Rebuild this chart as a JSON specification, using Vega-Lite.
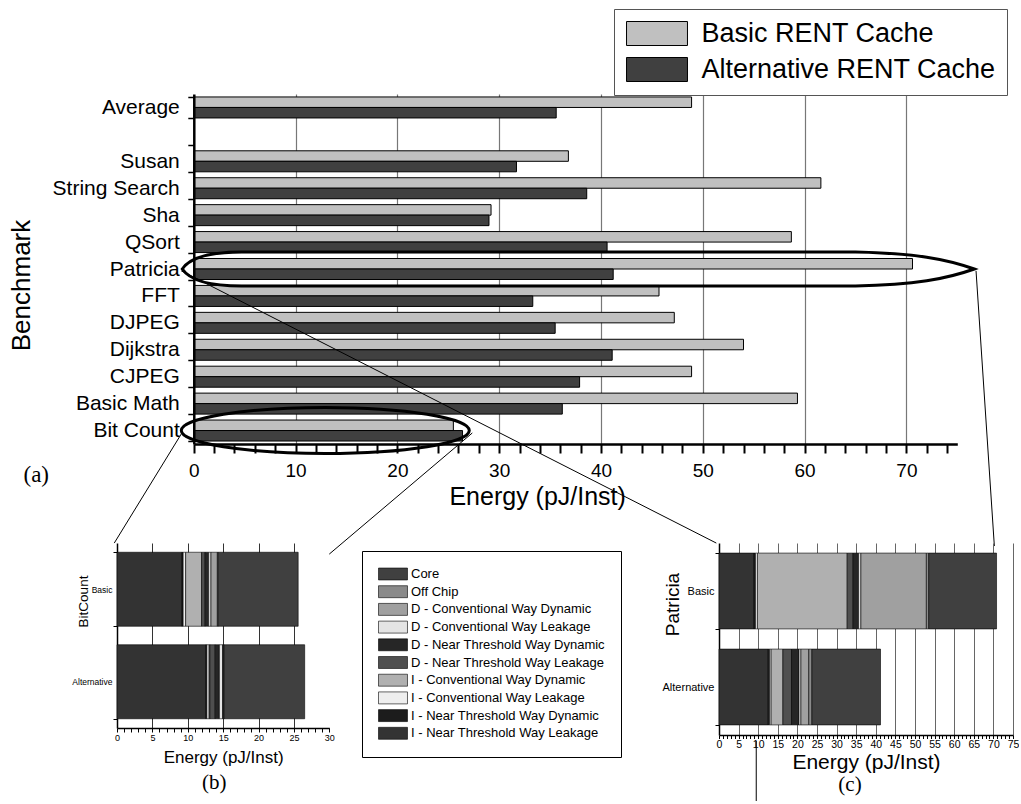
{
  "$schema": "https://vega.github.io/schema/vega-lite/v6.json",
  "padding": {"left": 8, "top": 8, "right": 0, "bottom": 0},
  "bounds": "flush",
  "spacing": 99,
  "background": "white",
  "config": {
    "view": {"stroke": null},
    "axis": {"domainColor": "#000", "tickColor": "#000", "labelColor": "#000", "titleColor": "#000", "labelFont": "Liberation Sans", "titleFont": "Liberation Sans", "titleFontWeight": "normal", "gridColor": "#777"},
    "legend": {"labelFont": "Liberation Sans", "labelColor": "#000"},
    "title": {"font": "Liberation Serif", "fontWeight": "normal", "color": "#000"}
  },
  "datasets": {
    "energy": [
      {"benchmark": "Average", "cache": "Basic RENT Cache", "energy": 48.9},
      {"benchmark": "Average", "cache": "Alternative RENT Cache", "energy": 35.6},
      {"benchmark": "Susan", "cache": "Basic RENT Cache", "energy": 36.8},
      {"benchmark": "Susan", "cache": "Alternative RENT Cache", "energy": 31.7},
      {"benchmark": "String Search", "cache": "Basic RENT Cache", "energy": 61.6},
      {"benchmark": "String Search", "cache": "Alternative RENT Cache", "energy": 38.6},
      {"benchmark": "Sha", "cache": "Basic RENT Cache", "energy": 29.2},
      {"benchmark": "Sha", "cache": "Alternative RENT Cache", "energy": 29.0},
      {"benchmark": "QSort", "cache": "Basic RENT Cache", "energy": 58.7},
      {"benchmark": "QSort", "cache": "Alternative RENT Cache", "energy": 40.6},
      {"benchmark": "Patricia", "cache": "Basic RENT Cache", "energy": 70.6},
      {"benchmark": "Patricia", "cache": "Alternative RENT Cache", "energy": 41.2},
      {"benchmark": "FFT", "cache": "Basic RENT Cache", "energy": 45.7},
      {"benchmark": "FFT", "cache": "Alternative RENT Cache", "energy": 33.3},
      {"benchmark": "DJPEG", "cache": "Basic RENT Cache", "energy": 47.2},
      {"benchmark": "DJPEG", "cache": "Alternative RENT Cache", "energy": 35.5},
      {"benchmark": "Dijkstra", "cache": "Basic RENT Cache", "energy": 54.0},
      {"benchmark": "Dijkstra", "cache": "Alternative RENT Cache", "energy": 41.1},
      {"benchmark": "CJPEG", "cache": "Basic RENT Cache", "energy": 48.9},
      {"benchmark": "CJPEG", "cache": "Alternative RENT Cache", "energy": 37.9},
      {"benchmark": "Basic Math", "cache": "Basic RENT Cache", "energy": 59.3},
      {"benchmark": "Basic Math", "cache": "Alternative RENT Cache", "energy": 36.2},
      {"benchmark": "Bit Count", "cache": "Basic RENT Cache", "energy": 25.5},
      {"benchmark": "Bit Count", "cache": "Alternative RENT Cache", "energy": 26.4}
    ],
    "callouts": [
      {"benchmark": "Patricia", "energy": 37.77},
      {"benchmark": "Bit Count", "energy": 12.92}
    ],
    "leaders": [
      {"energy": -1.23, "row": 0.37, "energy_end": -7.81, "row_end": -3.68},
      {"energy": 27.36, "row": 0.41, "energy_end": 13.31, "row_end": -4.09},
      {"energy": -1.23, "row": 6.43, "energy_end": 51.33, "row_end": -3.68},
      {"energy": 76.84, "row": 6.43, "energy_end": 78.64, "row_end": -3.79},
      {"energy": 55.25, "row": -11.03, "energy_end": 55.25, "row_end": -13.26}
    ],
    "panel_labels": [
      {"label": "(a)", "energy": -15.47, "row": -1.15}
    ],
    "breakdown": [
      {"benchmark": "BitCount", "cache": "Basic", "component": "I - Near Threshold Way Leakage", "energy": 9.2},
      {"benchmark": "BitCount", "cache": "Basic", "component": "I - Near Threshold Way Dynamic", "energy": 0.15},
      {"benchmark": "BitCount", "cache": "Basic", "component": "I - Conventional Way Leakage", "energy": 0.35},
      {"benchmark": "BitCount", "cache": "Basic", "component": "I - Conventional Way Dynamic", "energy": 2.25},
      {"benchmark": "BitCount", "cache": "Basic", "component": "D - Near Threshold Way Leakage", "energy": 0.5},
      {"benchmark": "BitCount", "cache": "Basic", "component": "D - Near Threshold Way Dynamic", "energy": 0.5},
      {"benchmark": "BitCount", "cache": "Basic", "component": "D - Conventional Way Leakage", "energy": 0.33},
      {"benchmark": "BitCount", "cache": "Basic", "component": "D - Conventional Way Dynamic", "energy": 0.9},
      {"benchmark": "BitCount", "cache": "Basic", "component": "Off Chip", "energy": 0.12},
      {"benchmark": "BitCount", "cache": "Basic", "component": "Core", "energy": 11.3},
      {"benchmark": "BitCount", "cache": "Alternative", "component": "I - Near Threshold Way Leakage", "energy": 12.55},
      {"benchmark": "BitCount", "cache": "Alternative", "component": "I - Near Threshold Way Dynamic", "energy": 0.15},
      {"benchmark": "BitCount", "cache": "Alternative", "component": "I - Conventional Way Leakage", "energy": 0.32},
      {"benchmark": "BitCount", "cache": "Alternative", "component": "I - Conventional Way Dynamic", "energy": 0.1},
      {"benchmark": "BitCount", "cache": "Alternative", "component": "D - Near Threshold Way Leakage", "energy": 0.75},
      {"benchmark": "BitCount", "cache": "Alternative", "component": "D - Near Threshold Way Dynamic", "energy": 0.6},
      {"benchmark": "BitCount", "cache": "Alternative", "component": "D - Conventional Way Leakage", "energy": 0.45},
      {"benchmark": "BitCount", "cache": "Alternative", "component": "D - Conventional Way Dynamic", "energy": 0.1},
      {"benchmark": "BitCount", "cache": "Alternative", "component": "Off Chip", "energy": 0.1},
      {"benchmark": "BitCount", "cache": "Alternative", "component": "Core", "energy": 11.4},
      {"benchmark": "Patricia", "cache": "Basic", "component": "I - Near Threshold Way Leakage", "energy": 8.95},
      {"benchmark": "Patricia", "cache": "Basic", "component": "I - Near Threshold Way Dynamic", "energy": 0.35},
      {"benchmark": "Patricia", "cache": "Basic", "component": "I - Conventional Way Leakage", "energy": 0.5},
      {"benchmark": "Patricia", "cache": "Basic", "component": "I - Conventional Way Dynamic", "energy": 22.9},
      {"benchmark": "Patricia", "cache": "Basic", "component": "D - Near Threshold Way Leakage", "energy": 1.5},
      {"benchmark": "Patricia", "cache": "Basic", "component": "D - Near Threshold Way Dynamic", "energy": 1.4},
      {"benchmark": "Patricia", "cache": "Basic", "component": "D - Conventional Way Leakage", "energy": 0.6},
      {"benchmark": "Patricia", "cache": "Basic", "component": "D - Conventional Way Dynamic", "energy": 16.7},
      {"benchmark": "Patricia", "cache": "Basic", "component": "Off Chip", "energy": 0.6},
      {"benchmark": "Patricia", "cache": "Basic", "component": "Core", "energy": 17.3},
      {"benchmark": "Patricia", "cache": "Alternative", "component": "I - Near Threshold Way Leakage", "energy": 12.55},
      {"benchmark": "Patricia", "cache": "Alternative", "component": "I - Near Threshold Way Dynamic", "energy": 0.35},
      {"benchmark": "Patricia", "cache": "Alternative", "component": "I - Conventional Way Leakage", "energy": 0.4},
      {"benchmark": "Patricia", "cache": "Alternative", "component": "I - Conventional Way Dynamic", "energy": 3.0},
      {"benchmark": "Patricia", "cache": "Alternative", "component": "D - Near Threshold Way Leakage", "energy": 2.2},
      {"benchmark": "Patricia", "cache": "Alternative", "component": "D - Near Threshold Way Dynamic", "energy": 1.9},
      {"benchmark": "Patricia", "cache": "Alternative", "component": "D - Conventional Way Leakage", "energy": 0.5},
      {"benchmark": "Patricia", "cache": "Alternative", "component": "D - Conventional Way Dynamic", "energy": 2.0},
      {"benchmark": "Patricia", "cache": "Alternative", "component": "Off Chip", "energy": 0.8},
      {"benchmark": "Patricia", "cache": "Alternative", "component": "Core", "energy": 17.5}
    ]
  },
  "resolve": {"scale": {"color": "independent"}, "legend": {"color": "independent"}},
  "vconcat": [
    {
      "width": 840.3,
      "height": 350,
      "resolve": {"scale": {"y": "independent"}, "axis": {"y": "independent"}},
      "encoding": {
        "x": {"field": "energy", "type": "quantitative",
          "scale": {"domain": [-7.54, 75], "nice": false, "zero": false},
          "axis": {"values": [0,2,4,6,8,10,12,14,16,18,20,22,24,26,28,30,32,34,36,38,40,42,44,46,48,50,52,54,56,58,60,62,64,66,68,70,72,74],
            "labelExpr": "datum.value % 10 === 0 ? datum.label : ''", "labelOverlap": false, "labelFlush": false,
            "labelFontSize": 19, "labelPadding": 8,
            "ticks": true, "tickSize": 9, "tickWidth": 2, "tickColor": "#000", "tickOpacity": 1,
            "grid": true,
            "gridOpacity": {"condition": {"test": "datum.value % 10 === 0 && datum.value > 0", "value": 1}, "value": 0},
            "gridColor": "#777", "gridWidth": 1.2,
            "domainWidth": 2.5, "domainDash": [0, 76.8, 2000],
            "title": "Energy (pJ/Inst)", "titleFontSize": 25, "titleY": 60, "titleBaseline": "alphabetic"}}
      },
      "layer": [
        {
          "data": {"name": "energy"},
          "mark": {"type": "bar", "stroke": "#000", "strokeWidth": 1},
          "encoding": {
            "y": {"field": "benchmark", "type": "nominal", "sort": null,
              "scale": {"domain": ["Average", " ", "Susan", "String Search", "Sha", "QSort", "Patricia", "FFT", "DJPEG", "Dijkstra", "CJPEG", "Basic Math", "Bit Count"], "paddingInner": 0.22, "paddingOuter": 0.11},
              "axis": {"offset": -76.8, "zindex": 1, "tickBand": "extent", "labelFontSize": 21, "labelPadding": 8.5, "tickSize": 6, "tickWidth": 1.5, "domainWidth": 2.5, "title": "Benchmark", "titleFontSize": 26, "titleX": -172, "titleY": 191, "titleBaseline": "middle", "titleAngle": -90}},
            "yOffset": {"field": "cache", "type": "nominal", "scale": {"domain": ["Basic RENT Cache", "Alternative RENT Cache"]}},
            "color": {"field": "cache", "type": "nominal",
              "scale": {"domain": ["Basic RENT Cache", "Alternative RENT Cache"], "range": ["#c0c0c0", "#404040"]},
              "legend": {"orient": "none", "legendX": 497, "legendY": -85, "title": null,
                "symbolType": "M-2.54,-1H2.54V1H-2.54Z", "symbolSize": 576, "symbolOffset": 18.5,
                "symbolStrokeColor": "#000", "symbolStrokeWidth": 1,
                "labelFontSize": 27, "labelOffset": 31, "rowPadding": 7, "padding": 11,
                "strokeColor": "#555", "fillColor": "#fff", "labelLimit": 400}}
          }
        },
        {
          "data": {"name": "callouts"},
          "transform": [{"filter": "datum.benchmark === 'Patricia'"}],
          "mark": {"type": "point", "filled": false, "opacity": 1, "stroke": "#000", "strokeWidth": 3, "size": 627264,
            "shape": "M-1,0C-0.98,-0.03 -0.93,-0.043 -0.85,-0.043L0.7,-0.043C0.85,-0.04 0.93,-0.025 1,0C0.93,0.025 0.85,0.04 0.7,0.043L-0.85,0.043C-0.93,0.043 -0.98,0.03 -1,0Z"},
          "encoding": {
            "y": {"field": "benchmark", "type": "nominal", "scale": {"domain": ["Average", " ", "Susan", "String Search", "Sha", "QSort", "Patricia", "FFT", "DJPEG", "Dijkstra", "CJPEG", "Basic Math", "Bit Count"], "paddingInner": 0.22, "paddingOuter": 0.11}, "axis": null}
          }
        },
        {
          "data": {"name": "callouts"},
          "transform": [{"filter": "datum.benchmark === 'Bit Count'"}],
          "mark": {"type": "point", "filled": false, "opacity": 1, "stroke": "#000", "strokeWidth": 3, "size": 82944,
            "shape": "M-1,0C-1,-0.088 -0.552,-0.16 0,-0.16C0.552,-0.16 1,-0.088 1,0C1,0.088 0.552,0.16 0,0.16C-0.552,0.16 -1,0.088 -1,0Z"},
          "encoding": {
            "y": {"field": "benchmark", "type": "nominal", "scale": {"domain": ["Average", " ", "Susan", "String Search", "Sha", "QSort", "Patricia", "FFT", "DJPEG", "Dijkstra", "CJPEG", "Basic Math", "Bit Count"], "paddingInner": 0.22, "paddingOuter": 0.11}, "axis": null}
          }
        },
        {
          "data": {"name": "leaders"},
          "mark": {"type": "rule", "stroke": "#000", "strokeWidth": 1},
          "encoding": {
            "x2": {"field": "energy_end"},
            "y": {"field": "row", "type": "quantitative", "scale": {"domain": [0, 13], "nice": false, "zero": false}, "axis": null},
            "y2": {"field": "row_end"}
          }
        },
        {
          "data": {"name": "panel_labels"},
          "mark": {"type": "text", "font": "Liberation Serif", "fontSize": 23, "color": "#000", "align": "center", "baseline": "middle"},
          "encoding": {
            "y": {"field": "row", "type": "quantitative", "scale": {"domain": [0, 13], "nice": false, "zero": false}, "axis": null},
            "text": {"field": "label"}
          }
        }
      ]
    },
    {
      "bounds": "flush",
      "spacing": 389,
      "resolve": {"scale": {"color": "independent"}, "legend": {"color": "independent"}},
      "hconcat": [
        {
          "width": 212.3,
          "height": 185,
          "title": {"text": "(b)", "orient": "bottom", "anchor": "middle", "frame": "group", "fontSize": 21, "dx": -9, "offset": 7},
          "data": {"name": "breakdown"},
          "transform": [
            {"filter": "datum.benchmark === 'BitCount'"},
            {"calculate": "indexof(['I - Near Threshold Way Leakage','I - Near Threshold Way Dynamic','I - Conventional Way Leakage','I - Conventional Way Dynamic','D - Near Threshold Way Leakage','D - Near Threshold Way Dynamic','D - Conventional Way Leakage','D - Conventional Way Dynamic','Off Chip','Core'], datum.component)", "as": "stack_rank"}
          ],
          "mark": {"type": "bar", "stroke": "#000", "strokeWidth": 0.6},
          "encoding": {
            "y": {"field": "cache", "type": "nominal", "scale": {"domain": ["Basic", "Alternative"], "paddingInner": 0.2, "paddingOuter": 0.1},
              "axis": {"title": "BitCount", "titleFontSize": 13.5, "titleX": -33.7, "titleY": 58, "titleBaseline": "middle", "labelFontSize": 8.5, "labelPadding": 1, "tickSize": 4, "tickBand": "extent", "domainWidth": 1.5}},
            "x": {"field": "energy", "type": "quantitative", "stack": "zero", "scale": {"domain": [0, 30], "nice": false},
              "axis": {"values": [0,1,2,3,4,5,6,7,8,9,10,11,12,13,14,15,16,17,18,19,20,21,22,23,24,25,26,27,28,29,30],
                "labelExpr": "datum.value % 5 === 0 ? datum.label : ''", "labelOverlap": false, "labelFlush": false,
                "labelFontSize": 9, "labelPadding": 1,
                "ticks": true, "tickSize": 4, "tickWidth": 1,
                "grid": true,
                "gridOpacity": {"condition": {"test": "datum.value % 5 === 0 && datum.value > 0 && datum.value < 30", "value": 1}, "value": 0},
                "gridColor": "#333", "domainWidth": 1.5,
                "title": "Energy (pJ/Inst)", "titleFontSize": 17, "titleY": 34, "titleBaseline": "alphabetic"}},
            "color": {"field": "component", "type": "nominal",
              "scale": {"domain": ["Core", "Off Chip", "D - Conventional Way Dynamic", "D - Conventional Way Leakage", "D - Near Threshold Way Dynamic", "D - Near Threshold Way Leakage", "I - Conventional Way Dynamic", "I - Conventional Way Leakage", "I - Near Threshold Way Dynamic", "I - Near Threshold Way Leakage"],
                "range": ["#404040", "#8a8a8a", "#a0a0a0", "#e4e4e4", "#262626", "#4f4f4f", "#b0b0b0", "#eeeeee", "#1c1c1c", "#333333"]},
              "legend": null},
            "order": {"field": "stack_rank", "type": "quantitative"}
          }
        },
        {
          "width": 294,
          "height": 192,
          "title": {"text": "(c)", "orient": "bottom", "anchor": "middle", "frame": "group", "fontSize": 21, "dx": -16, "offset": 2},
          "data": {"name": "breakdown"},
          "transform": [
            {"filter": "datum.benchmark === 'Patricia'"},
            {"calculate": "indexof(['I - Near Threshold Way Leakage','I - Near Threshold Way Dynamic','I - Conventional Way Leakage','I - Conventional Way Dynamic','D - Near Threshold Way Leakage','D - Near Threshold Way Dynamic','D - Conventional Way Leakage','D - Conventional Way Dynamic','Off Chip','Core'], datum.component)", "as": "stack_rank"}
          ],
          "mark": {"type": "bar", "stroke": "#000", "strokeWidth": 0.6},
          "encoding": {
            "y": {"field": "cache", "type": "nominal", "scale": {"domain": ["Basic", "Alternative"], "paddingInner": 0.21, "paddingOuter": 0.105},
              "axis": {"title": "Patricia", "titleFontSize": 19, "titleX": -47, "titleY": 61, "titleBaseline": "middle", "labelFontSize": 11, "labelPadding": 1, "tickSize": 4, "tickBand": "extent", "domainWidth": 1.5}},
            "x": {"field": "energy", "type": "quantitative", "stack": "zero", "scale": {"domain": [0, 75], "nice": false},
              "axis": {"values": [0,1,2,3,4,5,6,7,8,9,10,11,12,13,14,15,16,17,18,19,20,21,22,23,24,25,26,27,28,29,30,31,32,33,34,35,36,37,38,39,40,41,42,43,44,45,46,47,48,49,50,51,52,53,54,55,56,57,58,59,60,61,62,63,64,65,66,67,68,69,70,71,72,73,74,75],
                "labelExpr": "datum.value % 5 === 0 ? datum.label : ''", "labelOverlap": false, "labelFlush": false,
                "labelFontSize": 10.5, "labelPadding": 1,
                "ticks": true, "tickSize": 3.5, "tickWidth": 1,
                "grid": true,
                "gridOpacity": {"condition": {"test": "datum.value % 5 === 0 && datum.value > 0", "value": 1}, "value": 0},
                "gridColor": "#666", "domainWidth": 1.5,
                "title": "Energy (pJ/Inst)", "titleFontSize": 21, "titleY": 33, "titleBaseline": "alphabetic"}},
            "color": {"field": "component", "type": "nominal",
              "scale": {"domain": ["Core", "Off Chip", "D - Conventional Way Dynamic", "D - Conventional Way Leakage", "D - Near Threshold Way Dynamic", "D - Near Threshold Way Leakage", "I - Conventional Way Dynamic", "I - Conventional Way Leakage", "I - Near Threshold Way Dynamic", "I - Near Threshold Way Leakage"],
                "range": ["#404040", "#8a8a8a", "#a0a0a0", "#e4e4e4", "#262626", "#4f4f4f", "#b0b0b0", "#eeeeee", "#1c1c1c", "#333333"]},
              "legend": {"orient": "none", "legendX": -357, "legendY": 8, "title": null,
                "symbolType": "M-2.23,-0.92H2.23V0.92H-2.23Z", "symbolSize": 169, "symbolOffset": 8,
                "symbolStrokeColor": "#000", "symbolStrokeWidth": 0.6,
                "labelFontSize": 13, "labelOffset": 11, "rowPadding": 1.7, "padding": 16,
                "strokeColor": "#000", "fillColor": "#fff", "labelLimit": 300}},
            "order": {"field": "stack_rank", "type": "quantitative"}
          }
        }
      ]
    }
  ]
}
